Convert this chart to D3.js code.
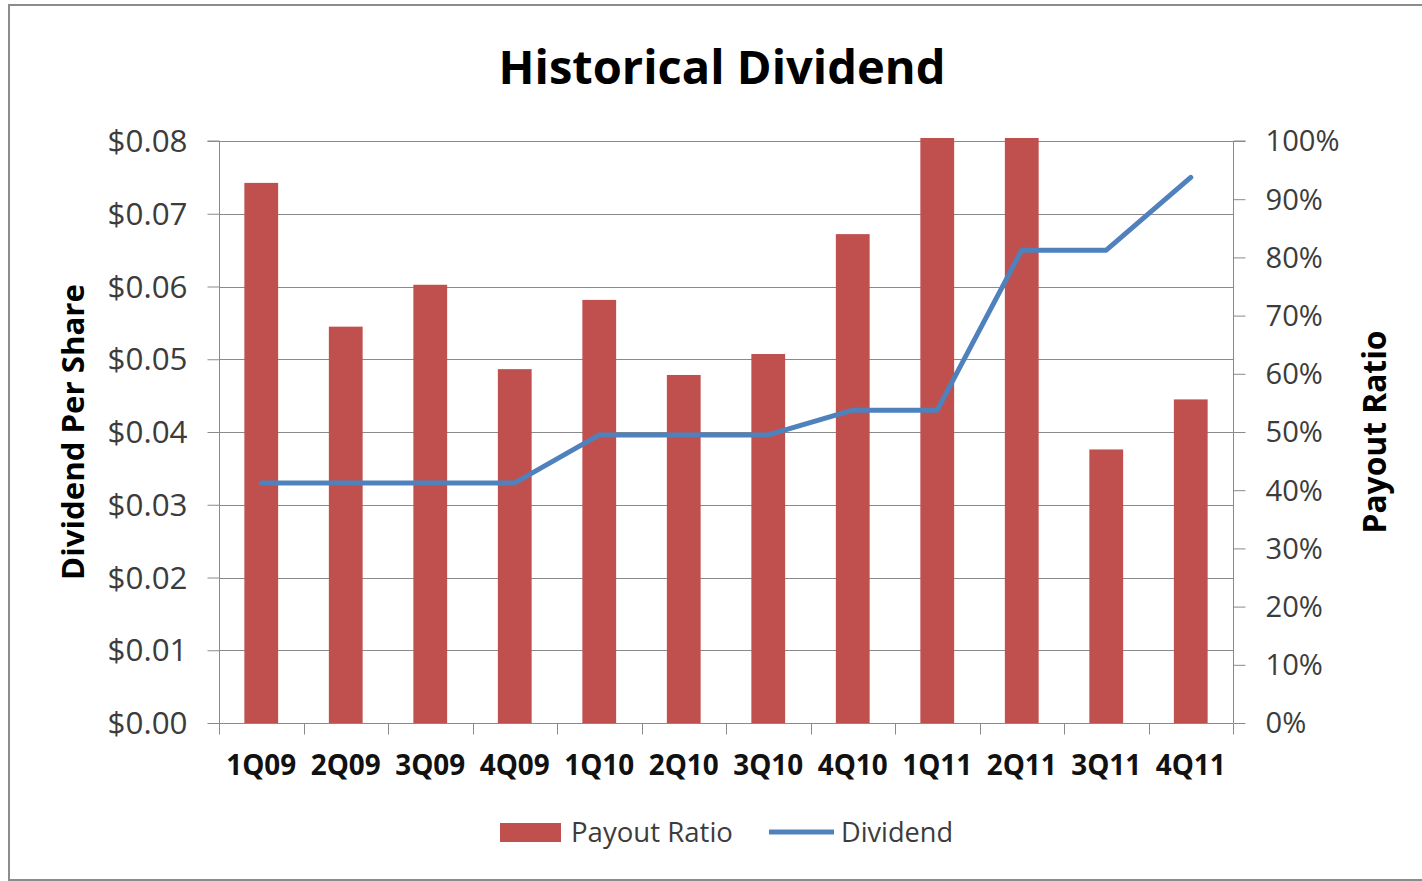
<!DOCTYPE html>
<html>
<head>
<meta charset="utf-8">
<script src="https://cdn.jsdelivr.net/npm/d3@7"></script>
<style>
  html, body { margin: 0; padding: 0; background: #fff; }
  svg { display: block; }
  text { font-family: "Open Sans", "Noto Sans", sans-serif; }
</style>
</head>
<body>
<svg id="chart" width="1422" height="881"></svg>
<script>
// Quarterly periods
const quarters = ["1Q09", "2Q09", "3Q09", "4Q09", "1Q10", "2Q10", "3Q10", "4Q10", "1Q11", "2Q11", "3Q11", "4Q11"];
// Payout ratio (right axis, share of earnings)
const payoutRatio = [0.928, 0.681, 0.753, 0.608, 0.727, 0.598, 0.634, 0.840, 1.0, 1.0, 0.470, 0.556];
// Dividend per share (left axis, dollars)
const dividend = [0.033, 0.033, 0.033, 0.033, 0.0396, 0.0396, 0.0396, 0.043, 0.043, 0.065, 0.065, 0.075];
// Axis tick values
const dividendTicks = [0, 0.01, 0.02, 0.03, 0.04, 0.05, 0.06, 0.07, 0.08];
const ratioTicks = [0, 0.1, 0.2, 0.3, 0.4, 0.5, 0.6, 0.7, 0.8, 0.9, 1.0];

const svg = d3.select("#chart");
const W = 1422, H = 881;
const plot = { left: 219, right: 1233, top: 141, bottom: 723 };

const barColor = "#C0504D";
const lineColor = "#4F81BD";
const gridColor = "#8a8a8a";
const labelColor = "#3c3c3c";

// Scale a text element's font size so its rendered width equals the target
function fitWidth(sel, target) {
  sel.each(function () {
    const size = parseFloat(this.getAttribute("font-size"));
    const len = this.getComputedTextLength();
    if (len > 0) this.setAttribute("font-size", (size * target / len).toFixed(2));
  });
}

// Outer chart frame
svg.append("rect")
  .attr("x", 9).attr("y", 5)
  .attr("width", W - 9 + 2).attr("height", 880 - 5)
  .attr("fill", "#fff")
  .attr("stroke", "#8c8c8c").attr("stroke-width", 2);

const x = d3.scaleBand().domain(quarters).range([plot.left, plot.right]).paddingInner(0).paddingOuter(0);
const yDiv = d3.scaleLinear().domain([0, 0.08]).range([plot.bottom, plot.top]);
const yRatio = d3.scaleLinear().domain([0, 1]).range([plot.bottom, plot.top]);

// Horizontal gridlines follow the dividend axis
svg.append("g")
  .selectAll("line")
  .data(dividendTicks)
  .join("line")
  .attr("x1", plot.left).attr("x2", plot.right)
  .attr("y1", d => Math.round(yDiv(d)) + 0.5).attr("y2", d => Math.round(yDiv(d)) + 0.5)
  .attr("stroke", gridColor).attr("stroke-width", 1);

// Payout ratio bars (Excel-style 150% gap width)
const barW = x.bandwidth() / 2.5;
svg.append("g")
  .selectAll("rect")
  .data(quarters.map((q, i) => ({ q, v: payoutRatio[i] })))
  .join("rect")
  .attr("x", d => x(d.q) + (x.bandwidth() - barW) / 2)
  .attr("width", barW)
  .attr("y", d => yRatio(d.v) - (d.v >= 1 ? 3 : 0))
  .attr("height", d => yRatio(0) - yRatio(d.v) + (d.v >= 1 ? 3 : 0))
  .attr("fill", barColor);

// Dividend line
const line = d3.line()
  .x((d, i) => x(quarters[i]) + x.bandwidth() / 2)
  .y(d => yDiv(d));
svg.append("path")
  .datum(dividend)
  .attr("d", line)
  .attr("fill", "none")
  .attr("stroke", lineColor)
  .attr("stroke-width", 5)
  .attr("stroke-linejoin", "round")
  .attr("stroke-linecap", "round");

// Left axis
const leftAxis = svg.append("g")
  .attr("transform", `translate(${plot.left + 0.5},0)`)
  .call(d3.axisLeft(yDiv).tickValues(dividendTicks).tickSize(12).tickPadding(20)
    .tickFormat(d => "$" + d3.format(".2f")(d)));
leftAxis.select(".domain").attr("stroke", gridColor).attr("d", `M-12,${plot.top}H0V${plot.bottom}`);
leftAxis.selectAll(".tick line").attr("stroke", gridColor);
leftAxis.selectAll(".tick text")
  .attr("font-size", 27).attr("fill", labelColor)
  .attr("font-family", "'Open Sans', sans-serif")
  .attr("dy", "0.34em");

// Right axis
const rightAxis = svg.append("g")
  .attr("transform", `translate(${plot.right + 0.5},0)`)
  .call(d3.axisRight(yRatio).tickValues(ratioTicks).tickSize(12).tickPadding(20)
    .tickFormat(d3.format(".0%")));
rightAxis.select(".domain").attr("stroke", gridColor).attr("d", `M12,${plot.top}H0V${plot.bottom}`);
rightAxis.selectAll(".tick line").attr("stroke", gridColor);
rightAxis.selectAll(".tick text")
  .attr("font-size", 27).attr("fill", labelColor)
  .attr("font-family", "'Open Sans', sans-serif")
  .attr("dy", "0.34em");

// Bottom axis with ticks at category boundaries
const bottom = svg.append("g").attr("transform", `translate(0,${plot.bottom + 0.5})`);
bottom.append("line")
  .attr("x1", plot.left).attr("x2", plot.right)
  .attr("stroke", gridColor);
bottom.selectAll("line.tk")
  .data(quarters.map(q => x(q)).concat([plot.right]))
  .join("line").attr("class", "tk")
  .attr("x1", d => Math.round(d) + 0.5).attr("x2", d => Math.round(d) + 0.5)
  .attr("y1", 0).attr("y2", 11)
  .attr("stroke", gridColor);
const xLabels = bottom.selectAll("text.xl")
  .data(quarters)
  .join("text").attr("class", "xl")
  .attr("x", d => x(d) + x.bandwidth() / 2)
  .attr("y", 51)
  .attr("text-anchor", "middle")
  .attr("font-size", 26).attr("font-weight", "bold")
  .attr("fill", "#111")
  .text(d => d);

// Title
const title = svg.append("text")
  .attr("x", 722).attr("y", 84)
  .attr("text-anchor", "middle")
  .attr("font-size", 48).attr("font-weight", "bold")
  .attr("fill", "#000")
  .text("Historical Dividend");

// Axis titles
const leftTitle = svg.append("text")
  .attr("transform", "translate(84,432) rotate(-90)")
  .attr("text-anchor", "middle")
  .attr("font-size", 28).attr("font-weight", "bold")
  .attr("fill", "#000")
  .text("Dividend Per Share");
const rightTitle = svg.append("text")
  .attr("transform", "translate(1386,432) rotate(-90)")
  .attr("text-anchor", "middle")
  .attr("font-size", 28).attr("font-weight", "bold")
  .attr("fill", "#000")
  .text("Payout Ratio");

// Legend
const legend = svg.append("g");
legend.append("rect")
  .attr("x", 500).attr("y", 823).attr("width", 61).attr("height", 19)
  .attr("fill", barColor);
const lt1 = legend.append("text")
  .attr("x", 571).attr("y", 842)
  .attr("font-size", 26).attr("fill", labelColor)
  .text("Payout Ratio");
legend.append("line")
  .attr("x1", 769).attr("x2", 834).attr("y1", 832).attr("y2", 832)
  .attr("stroke", lineColor).attr("stroke-width", 5);
const lt2 = legend.append("text")
  .attr("x", 841).attr("y", 842)
  .attr("font-size", 26).attr("fill", labelColor)
  .text("Dividend");

// Size text to the layout widths
fitWidth(title, 447);
fitWidth(leftTitle, 296);
fitWidth(rightTitle, 203);
fitWidth(xLabels, 70);
fitWidth(lt1, 162);
fitWidth(lt2, 112);
fitWidth(leftAxis.selectAll(".tick text"), 80);
fitWidth(rightAxis.selectAll(".tick text").filter(d => d === 1), 74);
rightAxis.selectAll(".tick text").attr("font-size",
  rightAxis.selectAll(".tick text").filter(d => d === 1).attr("font-size"));
</script>
</body>
</html>
